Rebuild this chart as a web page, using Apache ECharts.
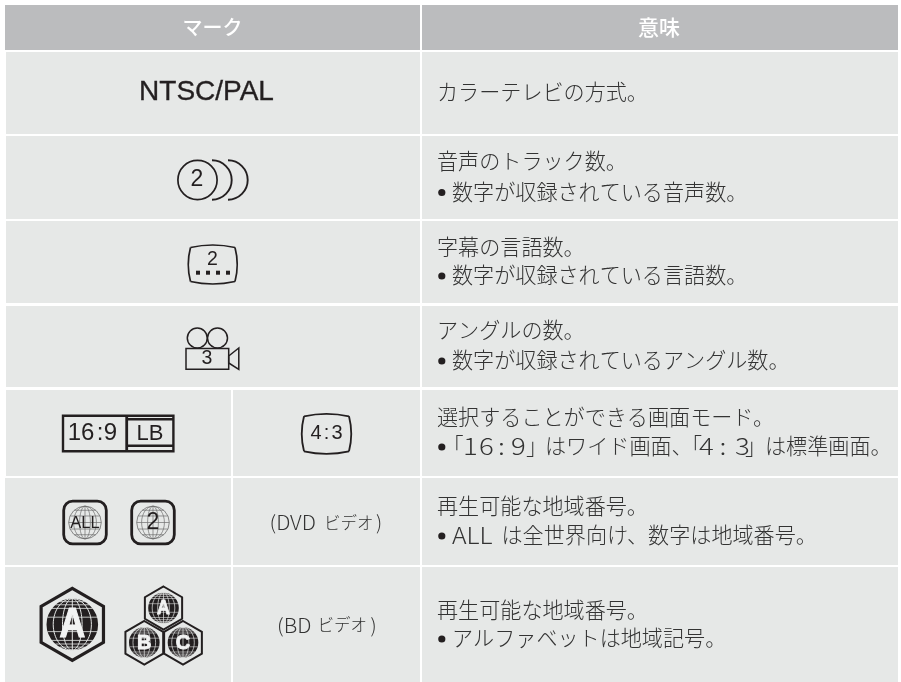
<!DOCTYPE html>
<html>
<head>
<meta charset="utf-8">
<style>
  html, body { margin: 0; padding: 0; background: #fff; }
  #main { width: 901px; height: 682px; }
</style>
<script src="https://cdn.jsdelivr.net/npm/echarts@6/dist/echarts.min.js"></script>
</head>
<body>
<div id="main"></div>
<script>
// table contents
const headers = ['マーク', '意味'];
const markTitle = 'NTSC/PAL';
const dvdLabel = ['(DVD', 'ビデオ', ')'];
const bdLabel = ['(BD', 'ビデオ', ')'];
const meaningTitles = [
  'カラーテレビの方式。',
  '音声のトラック数。',
  '字幕の言語数。',
  'アングルの数。',
  '選択することができる画面モード。',
  '再生可能な地域番号。',
  '再生可能な地域番号。'
];
const meaningNotes = [
  null,
  ['数字が収録されている音声数。'],
  ['数字が収録されている言語数。'],
  ['数字が収録されているアングル数。'],
  ['「', '1', '6', ':', '9', '」', 'はワイド画面、', '「', '4', ':', '3', '」', 'は標準画面。'],
  ['ALL', 'は全世界向け、数字は地域番号。'],
  ['アルファベットは地域記号。']
];

// layout
const rowTop = [52, 136, 221, 306, 390, 478, 567];
const rowBottom = [134, 219, 303, 387, 476, 565, 682];
const titleY = [92, 161, 246.5, 330, 416.5, 505.5, 609.5];
const noteY = [0, 191.5, 275, 360, 446, 535, 638];
const wideNoteX = [442.5, 463, 479, 498, 511, 526, 545, 681, 699, 719.5, 735, 745, 765];

const BG_HEAD = '#bbbcbe', BG_CELL = '#e6e8e7', INK = '#231f20', TEXT = '#333333';
const JP = '"Noto Sans CJK JP"', LAT = '"Liberation Sans"';
const BODY_SIZE = 21.1;

function txt(text, x, y, size, opt) {
  opt = opt || {};
  const t = {
    type: 'text', silent: true,
    x: x, y: y,
    style: {
      text: text, x: 0, y: 0,
      font: (opt.weight || '300') + ' ' + size + 'px ' + (opt.family || JP),
      fill: opt.fill || TEXT,
      align: opt.align || 'left', verticalAlign: 'middle'
    }
  };
  if (opt.scaleX) t.scaleX = opt.scaleX;
  if (opt.stroke) { t.style.stroke = opt.fill || TEXT; t.style.lineWidth = opt.stroke; }
  return t;
}
function box(x0, y0, x1, y1, fill) {
  return { type: 'rect', shape: { x: x0, y: y0, width: x1 - x0, height: y1 - y0 }, style: { fill: fill } };
}
function line(x1, y1, x2, y2, w, color) {
  return { type: 'line', shape: { x1: x1, y1: y1, x2: x2, y2: y2 }, style: { stroke: color || INK, lineWidth: w, fill: null } };
}
function hollow(type, shape, w, color) {
  return { type: type, shape: shape, style: { stroke: color || INK, lineWidth: w, fill: null } };
}
function curve(x1, y1, cx, cy, x2, y2, w) {
  return hollow('bezierCurve', { x1: x1, y1: y1, cpx1: cx, cpy1: cy, x2: x2, y2: y2 }, w);
}
// TV outline, four bowed sides
function tvShape(l, t, r, b, w) {
  const mx = (l + r) / 2, my = (t + b) / 2, d = 3;
  return [
    curve(l + d, t + d - 0.5, mx, t - d + 0.5, r - d, t + d - 0.5, w),
    curve(r - d, t + d - 0.5, r + 1.5, my, r - d, b - d + 0.5, w),
    curve(r - d, b - d + 0.5, mx, b + d - 0.5, l + d, b - d + 0.5, w),
    curve(l + d, b - d + 0.5, l - 1.5, my, l + d, t + d - 0.5, w)
  ];
}
function hexagon(cx, cy, r, w) {
  const hw = r * 0.866, pts = [[cx, cy - r], [cx + hw, cy - r / 2], [cx + hw, cy + r / 2], [cx, cy + r], [cx - hw, cy + r / 2], [cx - hw, cy - r / 2]];
  return { type: 'polygon', shape: { points: pts }, style: { stroke: INK, lineWidth: w, fill: BG_CELL, lineJoin: 'miter' } };
}
// thin line globe of the DVD marks
function wireGlobe(cx, cy, r) {
  const c = '#6d6d6d', out = [hollow('circle', { cx: cx, cy: cy, r: r }, 0.8, c)];
  [0.33, 0.7].forEach(function (k) { out.push(hollow('ellipse', { cx: cx, cy: cy, rx: r * k, ry: r }, 0.7, c)); });
  out.push(line(cx, cy - r, cx, cy + r, 0.7, c));
  [-0.75, -0.4, 0, 0.4, 0.75].forEach(function (k) {
    const h = Math.sqrt(1 - k * k) * r;
    out.push(line(cx - h, cy + k * r, cx + h, cy + k * r, 0.7, c));
  });
  return out;
}
// black globe of the BD marks with its white letter
function darkGlobe(cx, cy, r, letter, size, lw, sx) {
  const out = [{ type: 'circle', shape: { cx: cx, cy: cy, r: r }, style: { fill: INK } }];
  [0.38, 0.74].forEach(function (k) {
    out.push(hollow('ellipse', { cx: cx, cy: cy, rx: r * k, ry: r }, lw, BG_CELL));
  });
  out.push(line(cx, cy - r, cx, cy + r, lw, BG_CELL));
  [-0.88, -0.76, -0.62, -0.28, 0.28, 0.62, 0.76, 0.88].forEach(function (k) {
    const h = Math.sqrt(1 - k * k) * r;
    out.push(line(cx - h, cy + k * r, cx + h, cy + k * r, lw * 0.8, BG_CELL));
  });
  out.push(txt(letter, cx, cy + size * 0.03, size, { family: LAT, weight: 'bold', fill: '#f2f3f3', align: 'center', stroke: lw * 1.2, scaleX: sx }));
  return out;
}

function drawCells() {
  const out = [
    box(5, 5, 420, 50, BG_HEAD),
    box(422, 5, 898, 50, BG_HEAD),
    txt(headers[0], 212.5, 27, 20, { fill: '#fff', align: 'center', weight: '500' }),
    txt(headers[1], 659, 27, 21, { fill: '#fff', align: 'center', weight: '500' })
  ];
  rowTop.forEach(function (top, i) {
    const left = i >= 5 ? 5 : 6;
    if (i >= 4) {
      out.push(box(left, top, 231, rowBottom[i], BG_CELL), box(233, top, 420, rowBottom[i], BG_CELL));
    } else {
      out.push(box(left, top, 420, rowBottom[i], BG_CELL));
    }
    out.push(box(422, top, 898, rowBottom[i], BG_CELL));
  });
  return out;
}

function drawMeanings() {
  const out = [];
  meaningTitles.forEach(function (title, i) {
    out.push(txt(title, 437, titleY[i], BODY_SIZE));
    const note = meaningNotes[i];
    if (!note) return;
    out.push({ type: 'circle', shape: { cx: 441.8, cy: noteY[i] + 1, r: 3.6 }, style: { fill: INK } });
    if (note.length === 1) {
      out.push(txt(note[0], 452, noteY[i], BODY_SIZE));
    } else if (note.length === 2) {
      out.push(txt(note[0], 452, noteY[i], 23, { scaleX: 1.08 }));
      out.push(txt(note[1], 501.5, noteY[i], BODY_SIZE));
    } else {
      note.forEach(function (seg, k) {
        const isNum = /^[0-9:]$/.test(seg);
        out.push(isNum
          ? txt(seg, wideNoteX[k], noteY[i], 23, { scaleX: 1.2 })
          : txt(seg, wideNoteX[k], noteY[i], BODY_SIZE));
      });
    }
  });
  return out;
}

function drawMarks() {
  let out = [txt(markTitle, 206.5, 92, 28, { family: LAT, weight: 'normal', fill: INK, align: 'center', stroke: 0.35 })];

  // audio tracks
  out.push(hollow('circle', { cx: 197.5, cy: 180, r: 19.6 }, 1.7));
  out.push(hollow('arc', { cx: 212, cy: 180, r: 19.7, startAngle: -Math.PI / 2, endAngle: Math.PI / 2, clockwise: true }, 1.9));
  out.push(hollow('arc', { cx: 228, cy: 180, r: 19.7, startAngle: -Math.PI / 2, endAngle: Math.PI / 2, clockwise: true }, 1.9));
  out.push(txt('2', 197, 180, 23, { family: LAT, weight: 'normal', fill: INK, align: 'center' }));

  // subtitles
  out = out.concat(tvShape(187.5, 245, 238, 284, 1.7));
  out.push(txt('2', 212.5, 259.5, 19.5, { family: LAT, weight: 'normal', fill: INK, align: 'center' }));
  [198, 208, 218, 228].forEach(function (x) { out.push(box(x - 2, 270.7, x + 2, 274.7, INK)); });

  // angles
  out.push(hollow('circle', { cx: 197.3, cy: 338, r: 10 }, 1.5));
  out.push(hollow('circle', { cx: 217.5, cy: 338, r: 10 }, 1.5));
  out.push(hollow('rect', { x: 186, y: 348.5, width: 42.7, height: 20.8 }, 1.5));
  out.push(hollow('polygon', { points: [[228.7, 356], [238.8, 348], [238.8, 369.5], [228.7, 363]] }, 1.5));
  out.push(txt('3', 207, 359, 19.5, { family: LAT, weight: 'normal', fill: INK, align: 'center' }));

  // screen modes
  out.push(hollow('rect', { x: 63, y: 415.7, width: 110.4, height: 35.6 }, 2.4));
  out.push(line(126.7, 415, 126.7, 452, 2.8));
  out.push(box(127, 418, 173, 420.6, INK), box(127, 444.5, 173, 447, INK));
  ['16', ':', '9'].forEach(function (s, k) {
    out.push(txt(s, [81, 100, 110.5][k], 433, 24, { family: LAT, weight: 'normal', fill: INK, align: 'center' }));
  });
  out.push(txt('LB', 150, 434, 22, { family: LAT, weight: 'normal', fill: INK, align: 'center' }));
  out = out.concat(tvShape(301, 413.8, 352, 453.8, 1.8));
  ['4', ':', '3'].forEach(function (s, k) {
    out.push(txt(s, [316, 326.5, 337][k], 433.5, 20, { family: LAT, weight: 'normal', fill: INK, align: 'center' }));
  });

  // DVD / BD captions
  out.push(txt(dvdLabel[0], 269.5, 523, 19.5, { scaleX: 1.08 }));
  out.push(txt(dvdLabel[1], 324, 522.5, 16.5));
  out.push(txt(dvdLabel[2], 376, 523, 19.5));
  out.push(txt(bdLabel[0], 277, 625.5, 19.5, { scaleX: 1.08 }));
  out.push(txt(bdLabel[1], 317.5, 625, 16.5));
  out.push(txt(bdLabel[2], 370.5, 625.5, 19.5));

  // DVD regions
  [[63.7, 'ALL', 16.5], [131.7, '2', 23]].forEach(function (d) {
    const x = d[0];
    out.push(hollow('rect', { x: x, y: 501.2, width: 42.6, height: 42.6, r: 9 }, 2.8));
    out = out.concat(wireGlobe(x + 21.3, 522.5, 16.3));
    out.push(txt(d[1], x + 21.3, 523, d[2], { family: LAT, weight: 'normal', fill: INK, align: 'center' }));
  });

  // BD regions
  out.push(hexagon(72.3, 624.4, 36, 3.2));
  out = out.concat(darkGlobe(72.3, 624.4, 25.8, 'A', 42, 1, 0.85));
  out.push(hexagon(163.5, 608, 21.5, 2));
  out = out.concat(darkGlobe(163.5, 608, 15.3, 'A', 21, 0.7, 0.85));
  out.push(hexagon(144.3, 642.8, 21.8, 2));
  out = out.concat(darkGlobe(144.3, 642.5, 15.3, 'B', 21, 0.7, 0.95));
  out.push(hexagon(183, 642.8, 21.8, 2));
  out = out.concat(darkGlobe(183, 642.5, 15.3, 'C', 21, 0.7, 0.95));
  return out;
}

const layers = [drawCells, drawMeanings, drawMarks];

const chart = echarts.init(document.getElementById('main'), null, { renderer: 'canvas' });
chart.setOption({
  animation: false,
  backgroundColor: '#fff',
  series: [{
    type: 'custom',
    coordinateSystem: 'none',
    silent: true,
    clip: false,
    data: layers.map(function (f, i) { return i; }),
    renderItem: function (params) {
      return { type: 'group', children: layers[params.dataIndex]() };
    }
  }]
});
</script>
</body>
</html>
